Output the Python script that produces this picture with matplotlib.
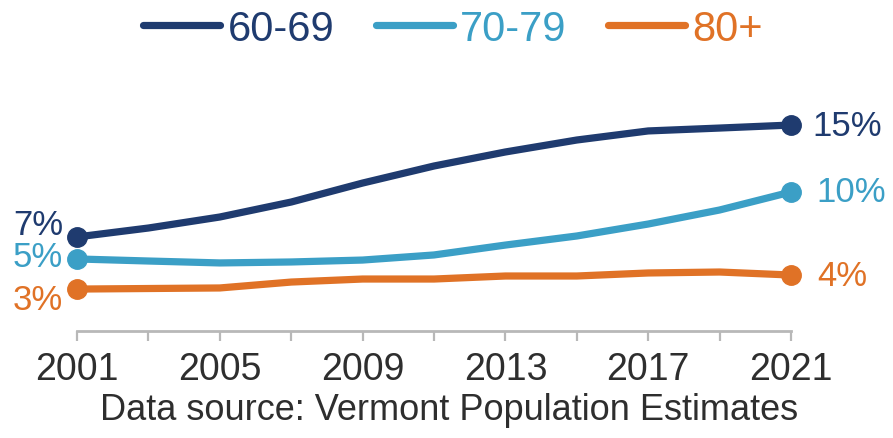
import matplotlib
matplotlib.use("Agg")
import matplotlib.pyplot as plt

plt.rcParams['font.family'] = ['Liberation Sans', 'DejaVu Sans']

### Data (share of population, %)
years = [2001, 2003, 2005, 2007, 2009, 2011, 2013, 2015, 2017, 2019, 2021]
age_60_69 = [6.84, 7.49, 8.29, 9.38, 10.76, 12.0, 13.02, 13.89, 14.55, 14.76, 14.98]
age_70_79 = [5.24, 5.09, 4.95, 5.02, 5.16, 5.53, 6.25, 6.91, 7.78, 8.8, 10.11]
age_80_up = [3.05, 3.09, 3.13, 3.56, 3.78, 3.78, 4.0, 4.0, 4.22, 4.29, 4.07]
labels = ["60-69", "70-79", "80+"]
start_labels = ["7%", "5%", "3%"]
end_labels = ["15%", "10%", "4%"]
tick_years = [2001, 2005, 2009, 2013, 2017, 2021]

colors = ["#1f3b6f", "#3b9fc6", "#e07226"]
# label offsets in pixels (left / right of the end points)
start_off = [(-14, 12), (-14, 2), (-14, -10)]
end_off = [(21, 0), (25, 0), (26, 0)]

fig = plt.figure(figsize=(8.93, 4.39), dpi=100)
ax = fig.add_axes([77/893, (439-332)/439, 714/893, 220/439])

series = [age_60_69, age_70_79, age_80_up]
handles = []
for i, vals in enumerate(series):
    ln, = ax.plot(years, vals, color=colors[i], lw=5.2, solid_capstyle='round',
                  solid_joinstyle='round', label=labels[i], zorder=3)
    handles.append(ln)
    ax.plot([years[0], years[-1]], [vals[0], vals[-1]], 'o', color=colors[i],
            ms=14, clip_on=False, zorder=4)
    ax.annotate(start_labels[i], (years[0], vals[0]), xytext=start_off[i],
                textcoords='offset pixels', ha='right', va='center',
                fontsize=25, color=colors[i], annotation_clip=False)
    ax.annotate(end_labels[i], (years[-1], vals[-1]), xytext=end_off[i],
                textcoords='offset pixels', ha='left', va='center',
                fontsize=25, color=colors[i], annotation_clip=False)

ax.set_xlim(2001, 2021)
ax.set_ylim(0, 16)
for s in ['top', 'right', 'left']:
    ax.spines[s].set_visible(False)
ax.spines['bottom'].set_color('#b8b8b8')
ax.spines['bottom'].set_linewidth(2)
ax.set_yticks([])
ax.set_xticks(range(2001, 2022, 2))
ax.set_xticklabels([str(y) if y in tick_years else '' for y in range(2001, 2022, 2)])
ax.tick_params(axis='x', direction='out', colors='#b8b8b8', width=1.6, length=7.5,
               pad=7, labelsize=27, labelcolor='#2e2e2e')

leg = fig.legend(handles=handles, loc='center', bbox_to_anchor=(453/893, 1-30/439),
                 ncol=3, frameon=False, fontsize=30, handlelength=1.85,
                 handletextpad=0.17, columnspacing=1.0, borderaxespad=0)
for txt, c in zip(leg.get_texts(), colors):
    txt.set_color(c)
for h in leg.legend_handles:
    h.set_solid_capstyle('round')
    h.set_linewidth(5.2)

fig.text(449/893, 1-411/439, "Data source: Vermont Population Estimates",
         ha='center', va='center', fontsize=26, color='#2e2e2e')

fig.savefig("out.png", dpi=100)
